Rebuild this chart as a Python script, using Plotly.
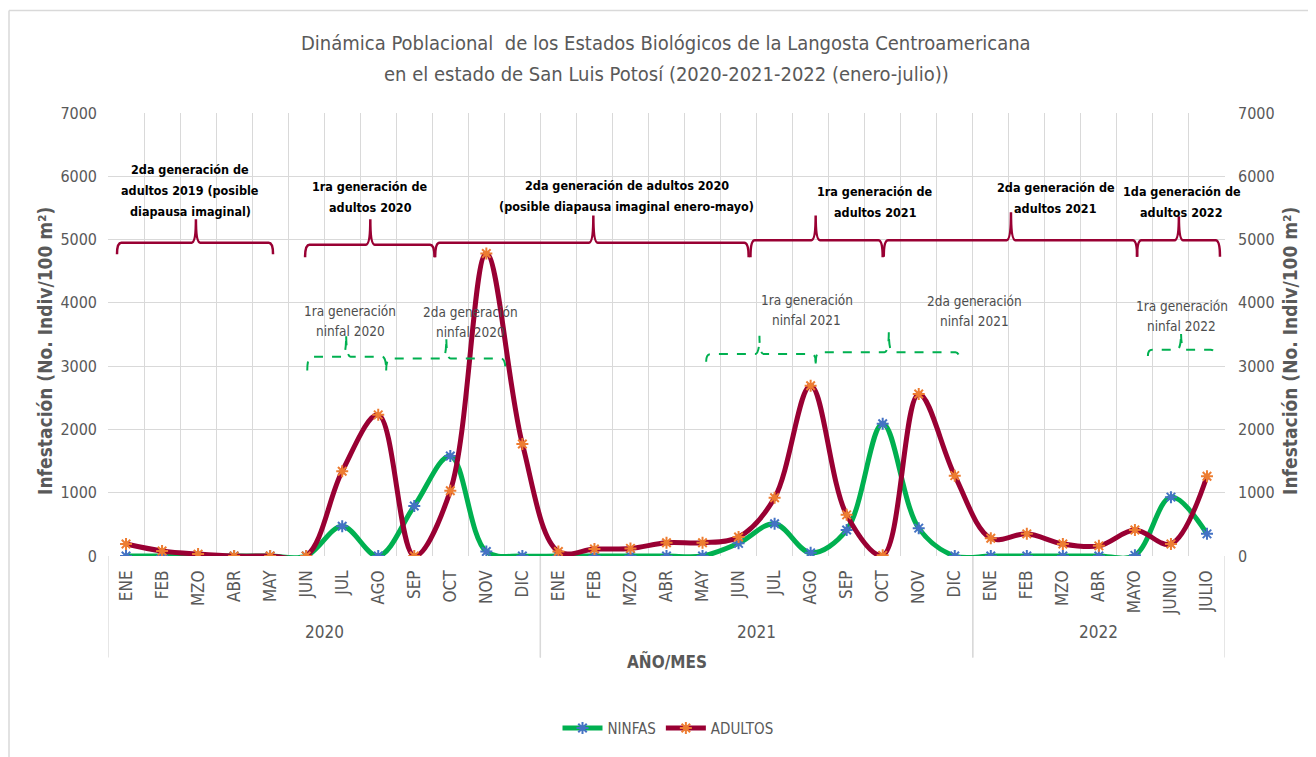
import plotly.graph_objects as go

# ---------------- data ----------------
years = ["2020"] * 12 + ["2021"] * 12 + ["2022"] * 7
months = ["ENE", "FEB", "MZO", "ABR", "MAY", "JUN", "JUL", "AGO", "SEP", "OCT", "NOV", "DIC",
          "ENE", "FEB", "MZO", "ABR", "MAY", "JUN", "JUL", "AGO", "SEP", "OCT", "NOV", "DIC",
          "ENE", "FEB", "MZO", "ABR", "MAYO", "JUNIO", "JULIO"]
ninfas = [0, 0, 0, 0, 0, 0, 470, 0, 790, 1580, 70, 0,
          0, 0, 0, 0, 0, 200, 510, 50, 410, 2090, 440, 0,
          0, 0, 0, 0, 10, 930, 350]
adultos = [190, 80, 30, 0, 0, 0, 1340, 2230, 0, 1030, 4780, 1770,
           70, 110, 120, 210, 210, 300, 920, 2690, 650, 10, 2560, 1270,
           280, 350, 190, 160, 410, 190, 1260]
y_ticks = [0, 1000, 2000, 3000, 4000, 5000, 6000, 7000]

# brace annotations: (x_start, x_end, x_peak, y_line, y_end, y_top) in month-index / value units
adult_braces = [(-0.25, 4.08, 1.94, 4950, 4770, 5320),
                (4.97, 8.56, 6.78, 4920, 4720, 5320),
                (8.58, 17.28, 12.97, 4950, 4720, 5380),
                (17.33, 21.0, 19.14, 4990, 4720, 5380),
                (21.03, 28.06, 24.56, 4990, 4730, 5430),
                (28.06, 30.36, 29.22, 4990, 4730, 5370)]
adult_labels = [(1.78, 5773, "2da generación de<br>adultos 2019 (posible<br>diapausa imaginal)"),
                (6.78, 5671, "1ra generación de<br>adultos 2020"),
                (13.89, 5694, "2da generación de adultos 2020<br>(posible diapausa imaginal enero-mayo)"),
                (20.8, 5600, "1ra generación de<br>adultos 2021"),
                (25.8, 5663, "2da generación de<br>adultos 2021"),
                (29.3, 5592, "1da generación de<br>adultos 2022")]
nymph_braces = [(5.03, 7.22, 6.11, 3150, 2930, 3510),
                (7.22, 10.53, 8.89, 3120, 2930, 3460),
                (16.1, 19.14, 17.58, 3190, 3070, 3480),
                (19.14, 23.14, 21.17, 3220, 3040, 3555),
                (28.36, 30.22, 29.28, 3260, 3160, 3540)]
nymph_labels = [(6.22, 3712, "1ra generación<br>ninfal 2020"),
                (9.56, 3697, "2da generación<br>ninfal 2020"),
                (18.89, 3885, "1ra generación<br>ninfal 2021"),
                (23.56, 3870, "2da generación<br>ninfal 2021"),
                (29.3, 3799, "1ra generación<br>ninfal 2022")]
title_lines = ["Dinámica Poblacional  de los Estados Biológicos de la Langosta Centroamericana",
               "en el estado de San Luis Potosí (2020-2021-2022 (enero-julio))"]
y_title = "Infestación (No. Indiv/100 m²)"

# ---------------- styling ----------------
NARROW = "Liberation Sans Narrow, DejaVu Sans Condensed, Roboto Condensed, Arial Narrow, sans-serif"
GRAY = "#595959"
GRID = "#D9D9D9"
GREEN = "#00B050"
MAROON = "#990033"

# plot area geometry (page px): left 108, right 1225, top 113, bottom 558; page offset 8px
PL, PR, PT, PB = 108, 1225, 113, 558
OFF = 8
PW, PH = PR - PL, PB - PT


def px_x(px):
    return (px - PL) / PW


def px_y(py):
    return (PB - py) / PH


idx = list(range(len(months)))

fig = go.Figure()
fig.add_trace(go.Scatter(
    x=idx, y=ninfas, name="NINFAS", mode="lines+markers",
    line=dict(color=GREEN, width=5, shape="spline", smoothing=1.0),
    marker=dict(symbol="asterisk-open", size=10, color="#4472C4",
                line=dict(color="#4472C4", width=2)),
    yaxis="y"))
fig.add_trace(go.Scatter(
    x=idx, y=adultos, name="ADULTOS", mode="lines+markers",
    line=dict(color=MAROON, width=5, shape="spline", smoothing=1.0),
    marker=dict(symbol="asterisk-open", size=10, color="#ED7D31",
                line=dict(color="#ED7D31", width=2)),
    yaxis="y2"))


def brace_path(x0, x1, xc, yl, ye, yt, d=0.12):
    return (f"M {x0},{ye} Q {x0},{yl} {x0 + d},{yl} L {xc - d},{yl} "
            f"Q {xc},{yl} {xc},{yt} Q {xc},{yl} {xc + d},{yl} "
            f"L {x1 - d},{yl} Q {x1},{yl} {x1},{ye}")


shapes = []
for b in adult_braces:
    shapes.append(dict(type="path", xref="x", yref="y", path=brace_path(*b),
                       line=dict(color=MAROON, width=2.5), layer="above"))
for b in nymph_braces:
    shapes.append(dict(type="path", xref="x", yref="y", path=brace_path(*b),
                       line=dict(color=GREEN, width=2, dash="dash"), layer="above"))

# year group dividers and labels
groups = []
for i, yv in enumerate(years):
    if not groups or groups[-1][0] != yv:
        groups.append([yv, i, i])
    else:
        groups[-1][2] = i
for g in groups:
    for xb in (g[1] - 0.5, g[2] + 0.5):
        shapes.append(dict(type="line", xref="x", yref="paper", x0=xb, x1=xb,
                           y0=0, y1=px_y(660), line=dict(color=GRID, width=1.3)))

# chart outer border (left & top)
shapes.append(dict(type="line", xref="paper", yref="paper", x0=px_x(9), x1=px_x(9),
                   y0=px_y(10), y1=px_y(800), line=dict(color=GRID, width=1.5)))
shapes.append(dict(type="line", xref="paper", yref="paper", x0=px_x(9), x1=px_x(1400),
                   y0=px_y(10), y1=px_y(10), line=dict(color=GRID, width=1.5)))

annotations = []


def add_multiline(x, y, text, spacing, font):
    lines = text.split("<br>")
    n = len(lines)
    for k, ln in enumerate(lines):
        yy = y + ((n - 1) / 2 - k) * spacing
        annotations.append(dict(x=x, y=yy, xref="x", yref="y", text=ln, showarrow=False,
                                xanchor="center", yanchor="middle", font=font))


for x, y, t in adult_labels:
    add_multiline(x, y, "<br>".join(f"<b>{s}</b>" for s in t.split("<br>")), 330,
                  dict(family=NARROW, size=12.5, color="#000000"))
for x, y, t in nymph_labels:
    add_multiline(x, y, t, 315, dict(family=NARROW, size=13.5, color="#4D4D4D"))

for g in groups:
    annotations.append(dict(x=(g[1] + g[2]) / 2, y=px_y(646), xref="x", yref="paper",
                            text=g[0], showarrow=False,
                            font=dict(family=NARROW, size=17, color=GRAY)))
annotations.append(dict(x=px_x(667), y=px_y(677), xref="paper", yref="paper",
                        text="<b>AÑO/MES</b>", showarrow=False,
                        font=dict(family=NARROW, size=17, color=GRAY)))
for k, (ty, tl) in enumerate(zip((43, 74), title_lines)):
    annotations.append(dict(x=px_x(666), y=px_y(ty), xref="paper", yref="paper",
                            text=tl, showarrow=False, xanchor="center", yanchor="middle",
                            font=dict(family=NARROW, size=20, color=GRAY)))
for tx in (45, 1290):
    annotations.append(dict(x=px_x(tx), y=px_y(352), xref="paper", yref="paper",
                            text=f"<b>{y_title}</b>", showarrow=False, textangle=-90,
                            xanchor="center", yanchor="middle",
                            font=dict(family=NARROW, size=19, color=GRAY)))

fig.update_layout(
    width=PR - OFF + 91, height=757 - OFF, autosize=False,
    margin=dict(l=PL - OFF, r=91, t=PT - OFF, b=757 - PB, pad=0),
    paper_bgcolor="white", plot_bgcolor="white",
    xaxis=dict(range=[-0.5, len(months) - 0.5], tickmode="array", tickvals=idx, ticktext=months,
               tickangle=-90, showgrid=False, zeroline=False, showline=False, ticks="",
               ticklabelstandoff=10,
               tickfont=dict(family=NARROW, size=17, color=GRAY),
               minor=dict(tickmode="array",
                          tickvals=[i - 0.5 for i in range(len(months) + 1)],
                          showgrid=True, gridcolor=GRID, gridwidth=1.3, ticks="")),
    yaxis=dict(range=[0, 7000], tickmode="array", tickvals=y_ticks, showgrid=True,
               gridcolor=GRID, gridwidth=1.3, zeroline=False, showline=False, ticks="",
               ticklabelstandoff=10,
               tickfont=dict(family=NARROW, size=16, color=GRAY)),
    yaxis2=dict(range=[0, 7000], tickmode="array", tickvals=y_ticks, overlaying="y",
                side="right", showgrid=False, zeroline=False, showline=False, ticks="",
                ticklabelstandoff=12,
                tickfont=dict(family=NARROW, size=16, color=GRAY)),
    legend=dict(orientation="h", x=px_x(668), xanchor="center", y=px_y(731),
                yanchor="middle", font=dict(family=NARROW, size=15, color=GRAY),
                itemwidth=40, bgcolor="rgba(0,0,0,0)"),
    shapes=shapes,
    annotations=annotations,
    showlegend=True,
)

fig.write_html("out.html")
